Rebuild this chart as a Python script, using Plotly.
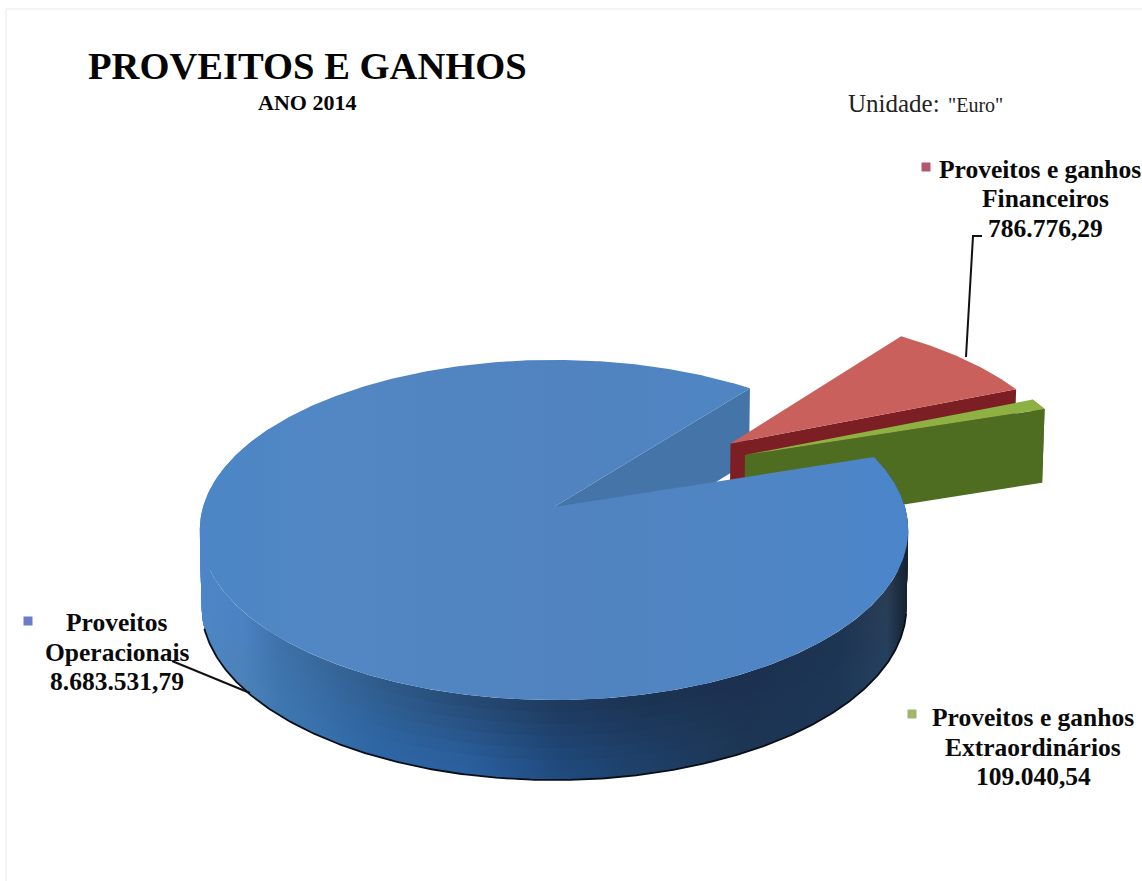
import numpy as np
import plotly.graph_objects as go

# ---- data ----
categories = [["Proveitos", "Operacionais"], ["Proveitos e ganhos", "Financeiros"], ["Proveitos e ganhos", "Extraordinários"]]
values = [8683531.79, 786776.29, 109040.54]
title_text = "PROVEITOS E GANHOS"
subtitle_text = "ANO 2014"

# ---- 3-D pie projection (screen scale of the plot axes) ----
CX, CY = 554.0, 507.0
RX, RY = 351.0, 167.0
K = 0.135
DEPTH, KD, SHRINK = 76.0, 0.05, 0.995
FIRST_ANGLE = 71.8  # degrees clockwise from the back of the pie


def project(u, v, f=0.0):
    """f is the depth fraction: 0 on the top face, 1 on the underside."""
    u, v = np.asarray(u, float), np.asarray(v, float)
    w = 1 - K * v
    x = CX + RX * u / w
    y = CY + RY * v / w
    x = CX + (x - CX) * (1 - (1 - SHRINK) * f)
    y = y + f * DEPTH / (1 - KD * v)
    return x, y


def arc(a0, a1, off=(0, 0), r=1.0):
    t = np.radians(np.linspace(a0, a1, max(int(abs(a1 - a0) * 2), 8)))
    return off[0] + r * np.sin(t), off[1] - r * np.cos(t)


def poly(fig, us, vs, depths, color=None, gradient=None):
    xs, ys = [], []
    for u, v, f in zip(us, vs, depths):
        x, y = project(u, v, f)
        xs.extend(np.atleast_1d(x).tolist())
        ys.extend(np.atleast_1d(y).tolist())
    kw = dict(fillgradient=gradient) if gradient else dict(fillcolor=color)
    fig.add_trace(go.Scatter(x=xs + xs[:1], y=ys + ys[:1], mode="lines", fill="toself",
                             line=dict(width=0), hoverinfo="skip", showlegend=False, **kw))


def wedge_side(fig, a, off, r, color=None, gradient=None):
    """Flat cut face from apex to rim at angle a."""
    u, v = arc(a, a, off, r)
    u, v = u[:1], v[:1]
    ax, ay = np.array([off[0]]), np.array([off[1]])
    poly(fig, [ax, u, u, ax], [ay, v, v, ay], [0, 0, 1, 1], color, gradient)


def rim_side(fig, a0, a1, off, r, color=None, gradient=None, f0=0.0):
    u, v = arc(a0, a1, off, r)
    poly(fig, [u, u[::-1]], [v, v[::-1]], [f0, 1], color, gradient)


def top(fig, a0, a1, off, r, color=None, gradient=None):
    u, v = arc(a0, a1, off, r)
    ax, ay = np.array([off[0]]), np.array([off[1]])
    poly(fig, [ax, u], [ay, v], [0, 0], color, gradient)


total = sum(values)
sweep = [360.0 * v / total for v in values]
blue_a0 = FIRST_ANGLE
blue_a1 = blue_a0 + sweep[0]
red_a0 = blue_a1 - 360
red_a1 = red_a0 + sweep[1]
green_a0 = red_a1
green_a1 = green_a0 + sweep[2]

OFF_RED, R_RED = (0.53, -0.40), 1.0
OFF_GREEN, R_GREEN = (0.568, -0.325), 1.0

fig = go.Figure()

# blue cut face seen through the gap
wedge_side(fig, blue_a1, (0, 0), 1.0, "#4474a8")

# red slice
wedge_side(fig, red_a1, OFF_RED, R_RED, "#7c1f24")
top(fig, red_a0, red_a1, OFF_RED, R_RED, "#c9605c")

# green slice
rim_side(fig, green_a0, green_a1, OFF_GREEN, R_GREEN, "#4f6d20")
wedge_side(fig, green_a1, OFF_GREEN, R_GREEN, "#4f6d20")
top(fig, green_a0, green_a1, OFF_GREEN, R_GREEN, "#8db243")

# blue body: shading changes across and down the wall
stops = [0.0, 0.06, 0.11, 0.25, 0.38, 0.51, 0.64, 0.77, 0.90, 0.97, 1.0]
upper = ["#4d86c8", "#4b82c4", "#3f72aa", "#2f5c8c", "#264a74", "#1e3a5e", "#1b3352", "#1c3050", "#1c3552", "#2a3d55", "#15202e"]
lower = ["#4d86c8", "#4c82b8", "#3f78b0", "#2e66a5", "#2a5f9e", "#1f4a7e", "#1e3f66", "#1c3553", "#1d3656", "#25405e", "#15202e"]


def mix(c0, c1, t):
    a = np.array([int(c0[i:i + 2], 16) for i in (1, 3, 5)], float)
    b = np.array([int(c1[i:i + 2], 16) for i in (1, 3, 5)], float)
    return "#%02x%02x%02x" % tuple(int(round(p)) for p in a + (b - a) * t)


for f in np.linspace(0, 0.9, 7):
    t = min(1.0, f / 0.8)
    grad = dict(type="horizontal", start=200, stop=908,
                colorscale=[[s, mix(c0, c1, t)] for s, c0, c1 in zip(stops, upper, lower)])
    rim_side(fig, blue_a0, 98, (0, 0), 1.0, gradient=grad, f0=f)
    rim_side(fig, 98, 262, (0, 0), 1.0, gradient=grad, f0=f)
    rim_side(fig, 262, 300, (0, 0), 1.0, gradient=grad, f0=f)

# dark outline under the wall
u, v = arc(100, 255)
bx, by = project(u, v, 1.0)
fig.add_trace(go.Scatter(x=bx, y=by, mode="lines", line=dict(color="#0a0f18", width=1.8),
                         hoverinfo="skip", showlegend=False))

top_grad = dict(type="horizontal", start=200, stop=908, colorscale=[
    [0.0, "#4c86c6"], [0.2, "#5287c3"], [0.5, "#5083bf"], [0.8, "#4f85c4"], [1.0, "#4b85ca"]])
top(fig, blue_a0, blue_a1, (0, 0), 1.0, gradient=top_grad)

# legend keys
key_x, key_y = [28, 926, 912], [621, 167, 714]
key_colors = ["#6a7cc8", "#b4566e", "#a3b46c"]
fig.add_trace(go.Scatter(x=key_x, y=key_y, mode="markers", hoverinfo="skip", showlegend=False,
                         marker=dict(symbol="square", size=9, color=key_colors, line=dict(width=0))))


# labels
def euro(v):
    return f"{v:,.2f}".replace(",", "#").replace(".", ",").replace("#", ".")


label_x = [[117, 117, 117], [1040, 1045, 1045], [1033, 1033, 1033]]
label_y = [[622, 652, 681], [169, 198, 228], [717, 747, 776]]
ann = []
for cat, val, xs_, ys_ in zip(categories, values, label_x, label_y):
    for line, lx, ly in zip(cat + [euro(val)], xs_, ys_):
        ann.append(dict(x=lx, y=ly, xref="x", yref="y", showarrow=False, xanchor="center", yanchor="middle",
                        align="center", text=line,
                        font=dict(family="Liberation Serif", size=25.5, color="#0a0a0a", weight="bold")))
ann += [
    dict(x=307, y=66, xref="x", yref="y", showarrow=False, xanchor="center", yanchor="middle", text=title_text,
         font=dict(family="Liberation Serif", size=38.6, color="#050505", weight="bold")),
    dict(x=307, y=102, xref="x", yref="y", showarrow=False, xanchor="center", yanchor="middle", text=subtitle_text,
         font=dict(family="Liberation Serif", size=22, color="#050505", weight="bold")),
    dict(x=846, y=103, xref="x", yref="y", showarrow=False, xanchor="left", yanchor="middle", text="Unidade:",
         font=dict(family="Liberation Serif", size=25, color="#222222")),
    dict(x=946, y=105, xref="x", yref="y", showarrow=False, xanchor="left", yanchor="middle", text='"Euro"',
         font=dict(family="Liberation Serif", size=20, color="#222222")),
]

shapes = [
    dict(type="rect", x0=6, y0=9, x1=1160, y1=900, xref="x", yref="y",
         line=dict(color="#e9e9e9", width=1), layer="below"),
    dict(type="line", x0=172, y0=661, x1=250, y1=693, xref="x", yref="y", line=dict(color="#111111", width=2)),
    dict(type="path", path="M 982 236 L 973 236 L 966 357", xref="x", yref="y", line=dict(color="#111111", width=2)),
]

fig.update_layout(
    width=1142, height=881, margin=dict(l=0, r=0, t=0, b=0),
    paper_bgcolor="white", plot_bgcolor="white", showlegend=False,
    xaxis=dict(range=[0, 1142], visible=False, fixedrange=True),
    yaxis=dict(range=[881, 0], visible=False, fixedrange=True),
    annotations=ann, shapes=shapes,
)
fig.write_html("out.html", config=dict(displayModeBar=False),
               post_script="document.body.style.margin='0';document.body.style.overflow='hidden';")
